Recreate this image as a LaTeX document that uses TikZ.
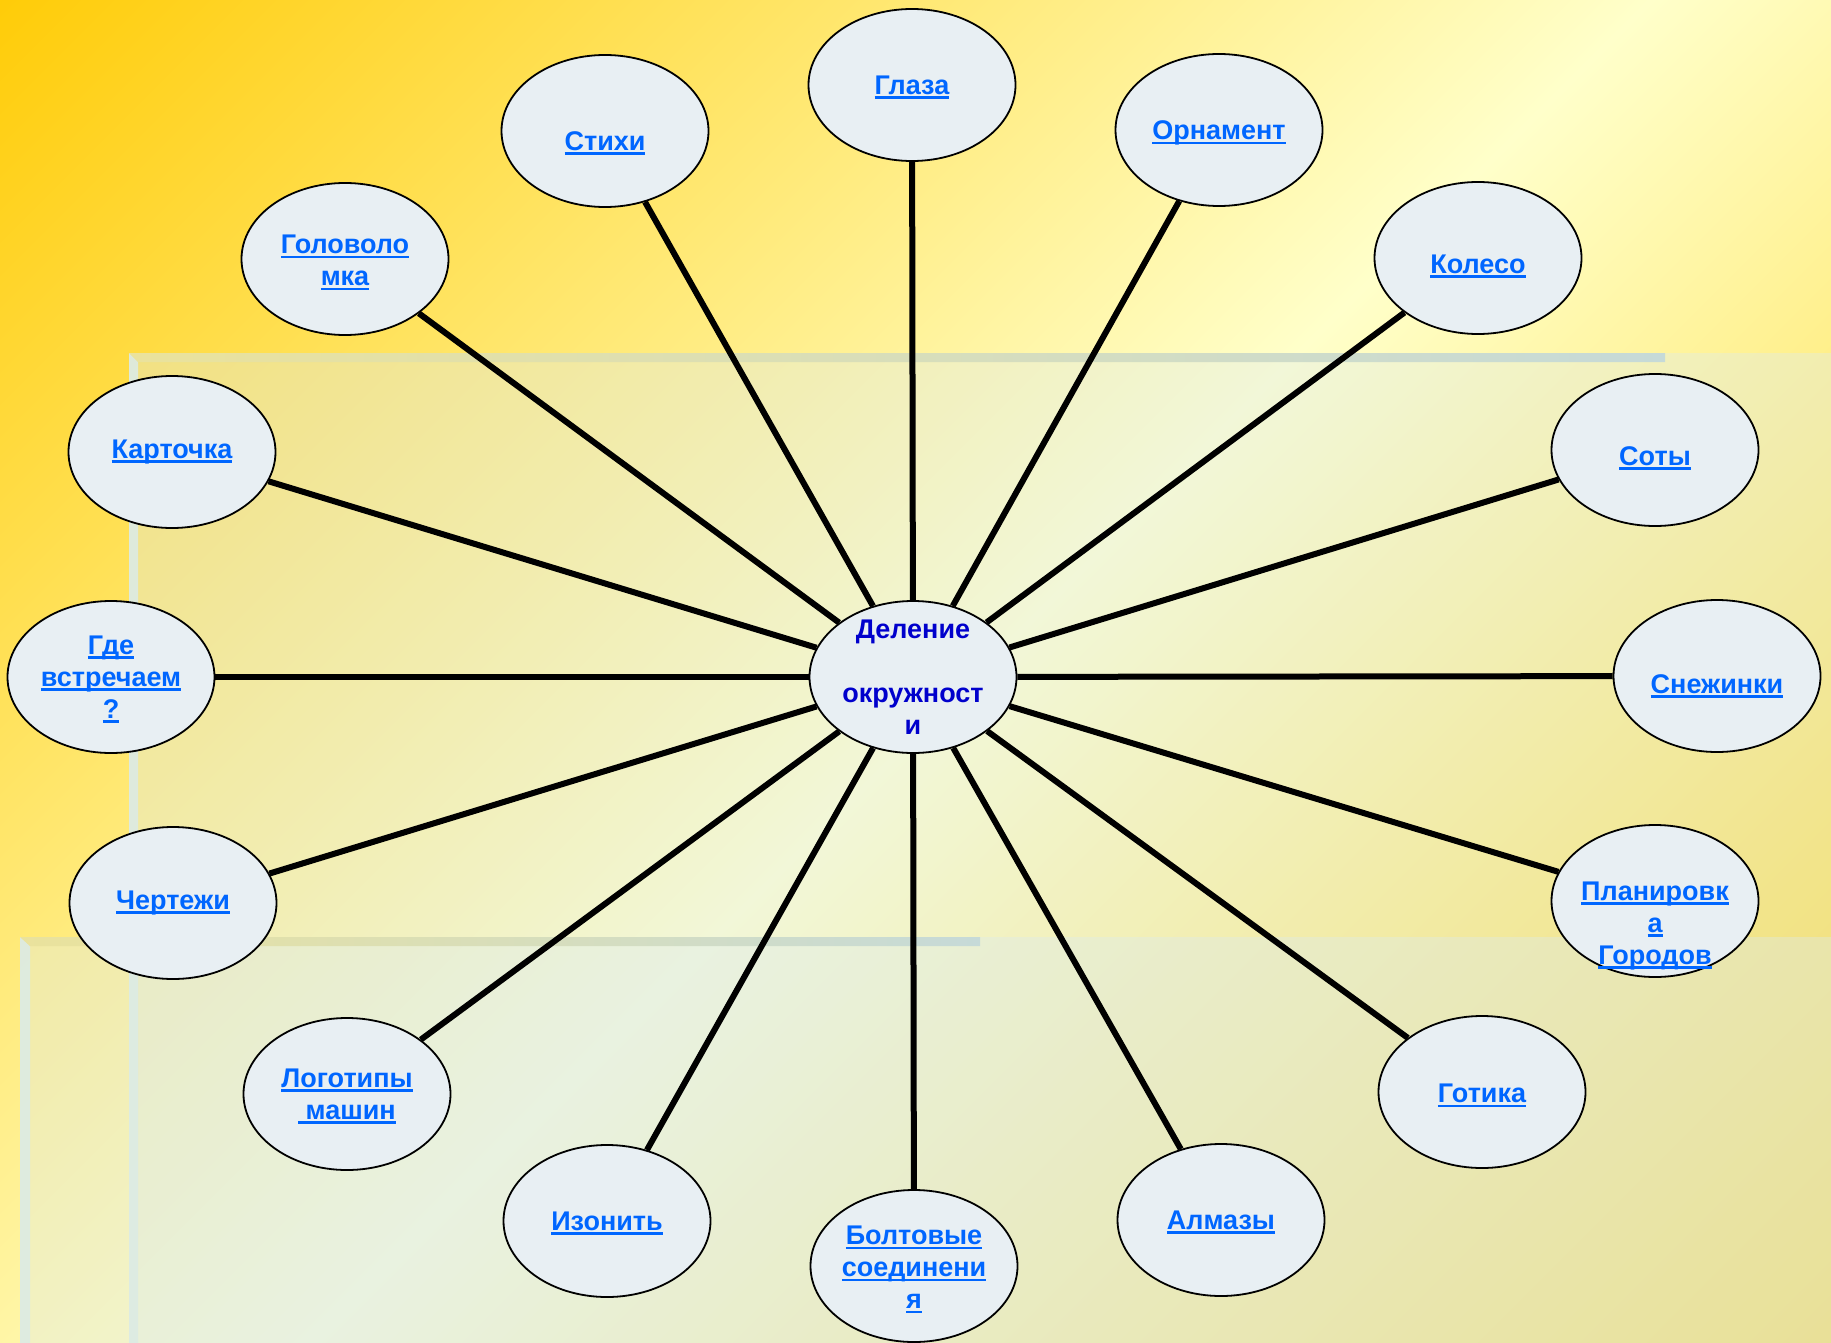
\documentclass[tikz,border=0pt]{standalone}
\usepackage{fontspec}
\setmainfont{Liberation Sans}
\usetikzlibrary{shapes.geometric}
\definecolor{bgA}{RGB}{255,204,8}
\definecolor{bgB}{RGB}{255,255,202}
\definecolor{bgC}{RGB}{255,210,20}
\definecolor{panelc}{RGB}{220,235,240}
\definecolor{ellfill}{RGB}{232,239,243}
\definecolor{linkc}{RGB}{0,102,255}
\definecolor{centc}{RGB}{0,0,204}
\definecolor{stripA}{RGB}{234,226,156}
\definecolor{stripB}{RGB}{198,218,216}
\definecolor{sideC}{RGB}{220,235,228}
\pgfdeclarehorizontalshading{bgdiag}{100bp}{color(0bp)=(bgA); color(25bp)=(bgA); color(51bp)=(bgB); color(75bp)=(bgC); color(100bp)=(bgC)}
\pgfdeclarelayer{back}
\pgfdeclarelayer{mid}
\pgfsetlayers{back,mid,main}
\newsavebox\ulbox
\newcommand\ulnk[1]{\sbox\ulbox{#1}\rlap{\smash{\rule[-4.6pt]{\wd\ulbox}{2.7pt}}}\usebox\ulbox}
\tikzset{
  ell/.style={ellipse, draw=black, line width=1.8pt, fill=ellfill, minimum width=207pt, minimum height=152pt, inner sep=0pt},
  lbl/.style={font=\bfseries\fontsize{27}{32}\selectfont, text=linkc, align=center, inner sep=0pt},
  clbl/.style={font=\bfseries\fontsize{27}{32}\selectfont, text=centc, align=center, inner sep=0pt},
  spoke/.style={line width=6pt, draw=black},
  panel/.style={fill=panelc, opacity=0.37},
  sidestrip/.style={fill=sideC, opacity=0.9},
}
\begin{document}
\begin{tikzpicture}[x=1pt,y=-1pt]
\useasboundingbox (0,0) rectangle (1831,1343);
% ---------- background ----------
\begin{pgfonlayer}{back}
  \begin{scope}
    \clip (0,0) rectangle (1831,1343);
    \begin{scope}[transform canvas={rotate=-45}]
      \shade[shading=bgdiag] (0,-1295) rectangle (2245,950);
    \end{scope}
  \end{scope}
  % panel 1
  \fill[panel] (129,353) rectangle (1831,1343);
  % panel 2
  \fill[panel] (20,937) rectangle (1831,1343);
  % strips of panel 1
  \fill[sidestrip] (129,353) -- (138,362) -- (138,1343) -- (129,1343) -- cycle;
  \shade[left color=stripA, right color=stripB] (129,353) -- (1665,353) -- (1665,362) -- (138,362) -- cycle;
  % strips of panel 2
  \fill[sidestrip] (20,937) -- (30,946) -- (30,1343) -- (20,1343) -- cycle;
  \shade[left color=stripA, right color=stripB] (20,937) -- (980,937) -- (980,946) -- (30,946) -- cycle;
\end{pgfonlayer}
% ---------- ellipses ----------
\node[ell] (c)        at (913,677) {};
\node[ell] (glaza)    at (912,85) {};
\node[ell] (stihi)    at (605,131) {};
\node[ell] (ornament) at (1219,130) {};
\node[ell] (golovo)   at (345,259) {};
\node[ell] (koleso)   at (1478,258) {};
\node[ell] (kart)     at (172,452) {};
\node[ell] (soty)     at (1655,450) {};
\node[ell] (gde)      at (111,677) {};
\node[ell] (snezh)    at (1717,676) {};
\node[ell] (chert)    at (173,903) {};
\node[ell] (plan)     at (1655,901) {};
\node[ell] (logo)     at (347,1094) {};
\node[ell] (gotika)   at (1482,1092) {};
\node[ell] (izonit)   at (607,1221) {};
\node[ell] (bolt)     at (914,1266) {};
\node[ell] (almazy)   at (1221,1220) {};
% ---------- spokes ----------
\begin{pgfonlayer}{mid}
  \foreach \n in {glaza,stihi,ornament,golovo,koleso,kart,soty,gde,snezh,chert,plan,logo,gotika,izonit,bolt,almazy}
    \draw[spoke] (c) -- (\n);
\end{pgfonlayer}
% ---------- texts ----------
\node[clbl] (t-c)        at (c)        {Деление\\[32pt]окружност\\и};
\node[lbl]  (t-glaza)    at (glaza)    {\ulnk{Глаза}};
\node[lbl, yshift=-10pt] (t-stihi) at (stihi) {\ulnk{Стихи}};
\node[lbl, yshift=-3pt] (t-ornament) at (ornament) {\ulnk{Орнамент}};
\node[lbl, yshift=-1.5pt] (t-golovo) at (golovo) {\ulnk{Головоло}\\\ulnk{мка}};
\node[lbl, yshift=-6pt] (t-koleso) at (koleso) {\ulnk{Колесо}};
\node[lbl]  (t-kart)     at (kart)     {\ulnk{Карточка}};
\node[lbl, yshift=-6pt] (t-soty) at (soty) {\ulnk{Соты}};
\node[lbl]  (t-gde)      at (gde)      {\ulnk{Где}\\\ulnk{встречаем}\\\ulnk{?}};
\node[lbl, yshift=-8pt] (t-snezh) at (snezh) {\ulnk{Снежинки}};
\node[lbl]  (t-chert)    at (chert)    {\ulnk{Чертежи}};
\node[lbl, yshift=-25pt] (t-plan) at (plan) {\ulnk{Планировк}\\\ulnk{а}\\\ulnk{Городов}};
\node[lbl]  (t-logo)     at (logo)     {\ulnk{Логотипы}\\\ulnk{\ машин}};
\node[lbl, yshift=-1.5pt] (t-gotika) at (gotika) {\ulnk{Готика}};
\node[lbl]  (t-izonit)   at (izonit)   {\ulnk{Изонить}};
\node[lbl, yshift=-1.5pt] (t-bolt) at (bolt) {\ulnk{Болтовые}\\\ulnk{соединени}\\\ulnk{я}};
\node[lbl]  (t-almazy)   at (almazy)   {\ulnk{Алмазы}};
\end{tikzpicture}
\end{document}
